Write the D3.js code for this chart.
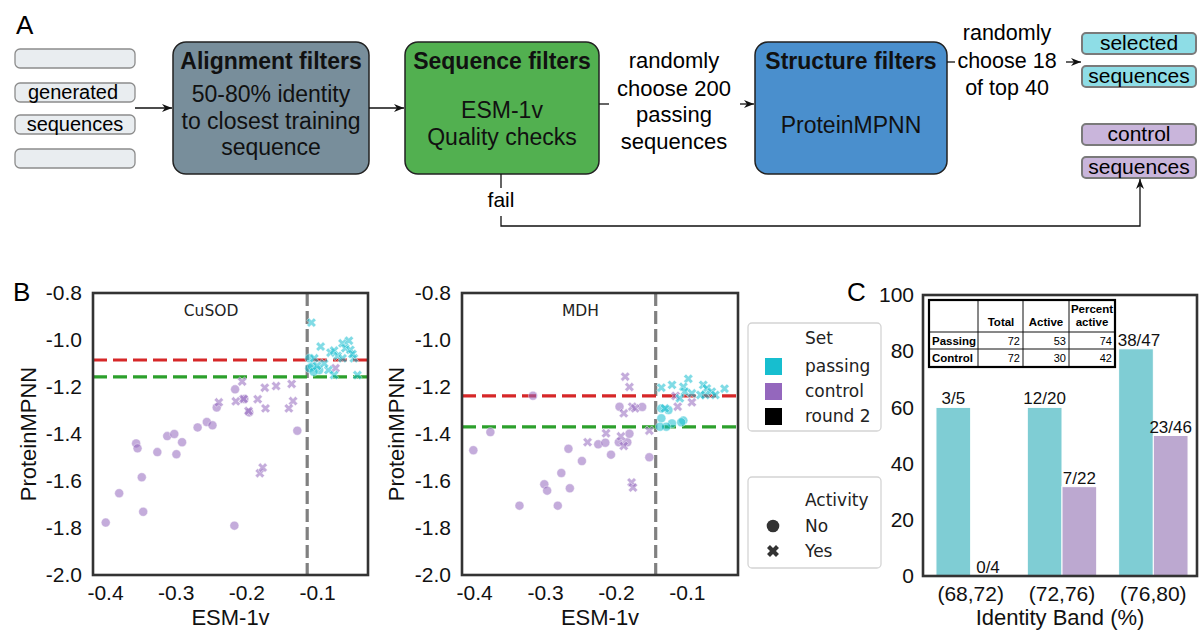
<!DOCTYPE html>
<html>
<head>
<meta charset="utf-8">
<script src="https://cdn.jsdelivr.net/npm/d3@7"></script>
<style>
  body { margin: 0; background: #fff; }
</style>
</head>
<body>
<svg id="fig" width="1200" height="630"></svg>
<script>
// ---- data ----
// CuSOD panel, [ESM-1v, ProteinMPNN]
const cusodPassYes = [[-0.108,-0.926],[-0.095,-1.028],[-0.081,-1.054],[-0.076,-1.045],[-0.064,-1.014],
  [-0.055,-1.003],[-0.060,-1.035],[-0.053,-1.042],[-0.048,-1.078],[-0.071,-1.068],[-0.084,-1.128],
  [-0.076,-1.149],[-0.043,-1.149],[-0.104,-1.078],[-0.064,-1.078],[-0.090,-1.100],[-0.050,-1.060],[-0.100,-1.110]];
const cusodPassNo = [[-0.111,-1.078],[-0.111,-1.120],[-0.097,-1.128],[-0.107,-1.113],[-0.105,-1.135]];
const cusodCtrlNo = [[-0.399,-1.777],[-0.380,-1.652],[-0.348,-1.584],[-0.346,-1.731],[-0.356,-1.440],
  [-0.354,-1.461],[-0.326,-1.477],[-0.312,-1.409],[-0.302,-1.400],[-0.299,-1.486],[-0.291,-1.435],
  [-0.269,-1.372],[-0.256,-1.349],[-0.248,-1.363],[-0.242,-1.287],[-0.216,-1.210],[-0.217,-1.790],
  [-0.203,-1.251],[-0.196,-1.308],[-0.128,-1.386]];
const cusodCtrlYes = [[-0.239,-1.265],[-0.215,-1.261],[-0.206,-1.177],[-0.204,-1.251],[-0.197,-1.302],
  [-0.184,-1.252],[-0.174,-1.203],[-0.173,-1.291],[-0.158,-1.196],[-0.181,-1.567],[-0.177,-1.543],
  [-0.136,-1.187],[-0.134,-1.260],[-0.140,-1.291],[-0.074,-1.120]];
const cusodCuts = [-0.114, -1.085, -1.157]; // esm cut, red cut, green cut

// MDH panel
const mdhPassYes = [[-0.136,-1.203],[-0.121,-1.191],[-0.098,-1.165],[-0.105,-1.199],[-0.103,-1.220],
  [-0.110,-1.248],[-0.093,-1.227],[-0.077,-1.191],[-0.072,-1.206],[-0.065,-1.220],[-0.060,-1.234],
  [-0.047,-1.207],[-0.074,-1.234],[-0.081,-1.234],[-0.131,-1.291]];
const mdhPassNo = [[-0.136,-1.291],[-0.126,-1.298],[-0.136,-1.333],[-0.121,-1.355],[-0.129,-1.369],
  [-0.105,-1.343],[-0.108,-1.350],[-0.138,-1.369]];
const mdhCtrlNo = [[-0.401,-1.469],[-0.377,-1.392],[-0.317,-1.237],[-0.336,-1.705],[-0.301,-1.614],
  [-0.297,-1.641],[-0.282,-1.705],[-0.277,-1.566],[-0.265,-1.631],[-0.267,-1.463],[-0.248,-1.515],
  [-0.225,-1.444],[-0.215,-1.437],[-0.207,-1.488],[-0.196,-1.435],[-0.184,-1.435],[-0.181,-1.399],
  [-0.195,-1.284],[-0.163,-1.285],[-0.153,-1.499]];
const mdhCtrlYes = [[-0.240,-1.435],[-0.214,-1.397],[-0.193,-1.410],[-0.189,-1.451],[-0.189,-1.312],
  [-0.187,-1.156],[-0.181,-1.200],[-0.177,-1.284],[-0.173,-1.291],[-0.178,-1.606],[-0.176,-1.628],
  [-0.153,-1.386],[-0.113,-1.284],[-0.093,-1.265],[-0.116,-1.238]];
const mdhCuts = [-0.144, -1.238, -1.370];

const scatterTicksX = [-0.4, -0.3, -0.2, -0.1];
const scatterTicksY = [-2.0, -1.8, -1.6, -1.4, -1.2, -1.0, -0.8];

// panel C bars
const bands = ["(68,72)", "(72,76)", "(76,80)"];
const passingPct = [60, 60, 80.85];
const controlPct = [0, 31.8, 50];
const passingLabels = ["3/5", "12/20", "38/47"];
const controlLabels = ["0/4", "7/22", "23/46"];
const barTicksY = [0, 20, 40, 60, 80, 100];

// summary table
const tableRows = ["Passing", "Control"];
const tableVals = [[72, 53, 74], [72, 30, 42]];

const FONT = '"Liberation Sans", Arial, Helvetica, sans-serif';
const LEGFONT = '"DejaVu Sans", Verdana, sans-serif';
const CYAN = "#17becf", PURPLE = "#9467bd";

const svg = d3.select("#fig").attr("font-family", FONT);

svg.append("defs").append("marker")
  .attr("id", "arr")
  .attr("viewBox", "0 0 10 8")
  .attr("refX", 10).attr("refY", 4)
  .attr("markerWidth", 10).attr("markerHeight", 8)
  .attr("markerUnits", "userSpaceOnUse")
  .attr("orient", "auto")
  .append("path").attr("d", "M0,0 L10,4 L0,8 L3,4 Z").attr("fill", "#111");

// ================= panel A =================
const gA = svg.append("g");
gA.append("text").attr("x", 16).attr("y", 34).attr("font-size", 26).text("A");

// input pills
const inPills = [49, 83, 115, 149];
gA.selectAll(".inpill").data(inPills).enter().append("rect")
  .attr("x", 15).attr("y", d => d).attr("width", 120).attr("height", 19).attr("rx", 5)
  .attr("fill", "#e9edf0").attr("stroke", "#8c8c8c").attr("stroke-width", 1.3);
gA.append("text").attr("x", 73).attr("y", 99).attr("text-anchor", "middle").attr("font-size", 20).text("generated");
gA.append("text").attr("x", 75).attr("y", 131).attr("text-anchor", "middle").attr("font-size", 20).text("sequences");

function arrow(x1, y1, x2, y2) {
  gA.append("line").attr("x1", x1).attr("y1", y1).attr("x2", x2).attr("y2", y2)
    .attr("stroke", "#111").attr("stroke-width", 1.3).attr("marker-end", "url(#arr)");
}

const boxes = [
  {x: 173, w: 196, fill: "#788e9b", title: "Alignment filters", lines: [["50-80% identity", 102], ["to closest training", 129], ["sequence", 155]]},
  {x: 405, w: 194, fill: "#52b050", title: "Sequence filters", lines: [["ESM-1v", 118], ["Quality checks", 145]]},
  {x: 755, w: 192, fill: "#4a8fcd", title: "Structure filters", lines: [["ProteinMPNN", 133]]}
];
boxes.forEach(b => {
  gA.append("rect").attr("x", b.x).attr("y", 42).attr("width", b.w).attr("height", 132).attr("rx", 13)
    .attr("fill", b.fill).attr("stroke", "#222").attr("stroke-width", 1.5);
  gA.append("text").attr("x", b.x + b.w / 2).attr("y", 69).attr("text-anchor", "middle")
    .attr("font-size", 23).attr("font-weight", "bold").attr("fill", "#111").text(b.title);
  b.lines.forEach(l => {
    gA.append("text").attr("x", b.x + b.w / 2).attr("y", l[1]).attr("text-anchor", "middle")
      .attr("font-size", 23).attr("fill", "#111").text(l[0]);
  });
});

arrow(135, 108, 172, 108);
arrow(369, 108, 404, 108);
gA.append("line").attr("x1", 599).attr("y1", 104).attr("x2", 609).attr("y2", 104).attr("stroke", "#111").attr("stroke-width", 1.3);
[["randomly", 68], ["choose 200", 96], ["passing", 122], ["sequences", 149]].forEach(l => {
  gA.append("text").attr("x", 674).attr("y", l[1]).attr("text-anchor", "middle").attr("font-size", 22).text(l[0]);
});
arrow(740, 104, 754, 104);
gA.append("line").attr("x1", 947).attr("y1", 62).attr("x2", 955).attr("y2", 62).attr("stroke", "#111").attr("stroke-width", 1.3);
[["randomly", 40], ["choose 18", 68], ["of top 40", 95]].forEach(l => {
  gA.append("text").attr("x", 1007).attr("y", l[1]).attr("text-anchor", "middle").attr("font-size", 21.5).text(l[0]);
});
arrow(1066, 62, 1081, 62);

// output pills
const outPills = [
  {y: 33, fill: "#8edde6", t: "selected"}, {y: 66, fill: "#8edde6", t: "sequences"},
  {y: 124, fill: "#c9b5db", t: "control"}, {y: 157, fill: "#c9b5db", t: "sequences"}
];
outPills.forEach(p => {
  gA.append("rect").attr("x", 1082).attr("y", p.y).attr("width", 114).attr("height", 21).attr("rx", 4)
    .attr("fill", p.fill).attr("stroke", "#7a7a7a").attr("stroke-width", 2);
  gA.append("text").attr("x", 1139).attr("y", p.y + 17).attr("text-anchor", "middle").attr("font-size", 21).text(p.t);
});

// fail path
gA.append("line").attr("x1", 501).attr("y1", 174).attr("x2", 501).attr("y2", 188).attr("stroke", "#111").attr("stroke-width", 1.3);
gA.append("text").attr("x", 501).attr("y", 207).attr("text-anchor", "middle").attr("font-size", 21).text("fail");
gA.append("path").attr("d", "M501,216 V226 H1140 V179").attr("fill", "none")
  .attr("stroke", "#111").attr("stroke-width", 1.3).attr("marker-end", "url(#arr)");

// ================= panel B =================
svg.append("text").attr("x", 13).attr("y", 301).attr("font-size", 26).text("B");

const symX = d3.symbol().type(d3.symbolCross).size(56);

function drawScatter(left, right, ylabX, title, passYes, passNo, ctrlYes, ctrlNo, cuts) {
  const g = svg.append("g");
  const x = d3.scaleLinear().domain([-0.417, -0.028]).range([left, right]);
  const y = d3.scaleLinear().domain([-2.0, -0.8]).range([575, 293]);

  // cut lines
  g.append("line").attr("x1", x(cuts[0])).attr("x2", x(cuts[0])).attr("y1", 293).attr("y2", 575)
    .attr("stroke", "#808080").attr("stroke-width", 3.2).attr("stroke-dasharray", "13,5");
  g.append("line").attr("x1", left).attr("x2", right).attr("y1", y(cuts[1])).attr("y2", y(cuts[1]))
    .attr("stroke", "#d62728").attr("stroke-width", 3.2).attr("stroke-dasharray", "14,6");
  g.append("line").attr("x1", left).attr("x2", right).attr("y1", y(cuts[2])).attr("y2", y(cuts[2]))
    .attr("stroke", "#2ca02c").attr("stroke-width", 3.2).attr("stroke-dasharray", "14,6");

  function dots(data, color) {
    g.selectAll(null).data(data).enter().append("circle")
      .attr("cx", d => x(d[0])).attr("cy", d => y(d[1])).attr("r", 4.5)
      .attr("fill", color).attr("fill-opacity", 0.55)
      .attr("stroke", "#fff").attr("stroke-width", 0.6).attr("stroke-opacity", 0.7);
  }
  function crosses(data, color) {
    g.selectAll(null).data(data).enter().append("path")
      .attr("d", symX)
      .attr("transform", d => `translate(${x(d[0])},${y(d[1])}) rotate(45)`)
      .attr("fill", color).attr("fill-opacity", 0.55)
      .attr("stroke", "#fff").attr("stroke-width", 0.6).attr("stroke-opacity", 0.7);
  }
  dots(ctrlNo, PURPLE);
  crosses(ctrlYes, PURPLE);
  dots(passNo, CYAN);
  crosses(passYes, CYAN);

  g.append("rect").attr("x", left).attr("y", 293).attr("width", right - left).attr("height", 282)
    .attr("fill", "none").attr("stroke", "#333").attr("stroke-width", 2.6);

  g.append("g").attr("transform", "translate(0,575)")
    .call(d3.axisBottom(x).tickValues(scatterTicksX).tickSize(0).tickPadding(10).tickFormat(d => d.toFixed(1)))
    .attr("font-size", 21).attr("font-family", FONT)
    .call(a => a.select(".domain").remove())
    .selectAll("text").attr("fill", "#111");
  g.append("g").attr("transform", `translate(${left},0)`)
    .call(d3.axisLeft(y).tickValues(scatterTicksY).tickSize(0).tickPadding(11).tickFormat(d => d.toFixed(1)))
    .attr("font-size", 21).attr("font-family", FONT)
    .call(a => a.select(".domain").remove())
    .selectAll("text").attr("fill", "#111");

  g.append("text").attr("x", (left + right) / 2).attr("y", 625).attr("text-anchor", "middle")
    .attr("font-size", 22).attr("fill", "#111").text("ESM-1v");
  g.append("text").attr("transform", `translate(${ylabX},434) rotate(-90)`).attr("text-anchor", "middle")
    .attr("font-size", 22).attr("fill", "#111").text("ProteinMPNN");
  g.append("text").attr("x", x(-0.25)).attr("y", 316).attr("text-anchor", "middle")
    .attr("font-family", LEGFONT).attr("font-size", 15.5).attr("fill", "#222").text(title);
}

drawScatter(93, 368, 36, "CuSOD", cusodPassYes, cusodPassNo, cusodCtrlYes, cusodCtrlNo, cusodCuts);
drawScatter(462, 738, 404, "MDH", mdhPassYes, mdhPassNo, mdhCtrlYes, mdhCtrlNo, mdhCuts);

// legends
const gL = svg.append("g").attr("font-family", LEGFONT).attr("font-size", 17).attr("fill", "#222");
gL.append("rect").attr("x", 748).attr("y", 323).attr("width", 133).attr("height", 108).attr("rx", 4)
  .attr("fill", "#fff").attr("stroke", "#d4d4d4").attr("stroke-width", 1.3);
gL.append("text").attr("x", 805).attr("y", 344).text("Set");
const setItems = [["passing", CYAN], ["control", PURPLE], ["round 2", "#000"]];
setItems.forEach((s, i) => {
  const by = 372 + i * 25;
  gL.append("rect").attr("x", 765).attr("y", by - 14).attr("width", 17).attr("height", 17).attr("fill", s[1]);
  gL.append("text").attr("x", 805).attr("y", by).text(s[0]);
});
gL.append("rect").attr("x", 748).attr("y", 477).attr("width", 133).attr("height", 91).attr("rx", 4)
  .attr("fill", "#fff").attr("stroke", "#d4d4d4").attr("stroke-width", 1.3);
gL.append("text").attr("x", 805).attr("y", 506).text("Activity");
gL.append("circle").attr("cx", 773).attr("cy", 526).attr("r", 6.3).attr("fill", "#333");
gL.append("text").attr("x", 805).attr("y", 532).text("No");
gL.append("path").attr("d", d3.symbol().type(d3.symbolCross).size(90))
  .attr("transform", "translate(773,551) rotate(45)").attr("fill", "#333");
gL.append("text").attr("x", 805).attr("y", 557).text("Yes");

// ================= panel C =================
svg.append("text").attr("x", 847).attr("y", 301).attr("font-size", 26).text("C");
const gC = svg.append("g");
const xb = d3.scaleBand().domain(bands).range([925, 1199]).paddingInner(0.24).paddingOuter(0.12);
const xs = d3.scaleBand().domain(["passing", "control"]).range([0, xb.bandwidth()]);
const yb = d3.scaleLinear().domain([0, 100]).range([576, 295]);

const barData = [];
bands.forEach((b, i) => {
  barData.push({band: b, set: "passing", v: passingPct[i], lab: passingLabels[i]});
  barData.push({band: b, set: "control", v: controlPct[i], lab: controlLabels[i]});
});

gC.selectAll(".bar").data(barData).enter().append("rect")
  .attr("x", d => xb(d.band) + xs(d.set)).attr("width", xs.bandwidth())
  .attr("y", d => yb(d.v)).attr("height", d => yb(0) - yb(d.v))
  .attr("fill", d => d.set === "passing" ? "#7fcdd4" : "#bca8d0")
  .attr("stroke", "#fff").attr("stroke-width", 1);

// table
const colX = [929, 978, 1023, 1069, 1115];
const rowY = [300, 332, 349, 367];
const gT = gC.append("g").attr("font-size", 11.5);
gT.append("rect").attr("x", colX[0]).attr("y", rowY[0]).attr("width", colX[4] - colX[0]).attr("height", rowY[3] - rowY[0])
  .attr("fill", "#fff");
colX.slice(1, 4).forEach(cx => gT.append("line").attr("x1", cx).attr("x2", cx).attr("y1", rowY[0]).attr("y2", rowY[3])
  .attr("stroke", "#111").attr("stroke-width", 1));
rowY.slice(1, 3).forEach(ry => gT.append("line").attr("x1", colX[0]).attr("x2", colX[4]).attr("y1", ry).attr("y2", ry)
  .attr("stroke", "#111").attr("stroke-width", 1));
gT.append("rect").attr("x", colX[0]).attr("y", rowY[0]).attr("width", colX[4] - colX[0]).attr("height", rowY[3] - rowY[0])
  .attr("fill", "none").attr("stroke", "#000").attr("stroke-width", 2.2);
gT.append("text").attr("x", 1001).attr("y", 326).attr("text-anchor", "middle").attr("font-weight", "bold").text("Total");
gT.append("text").attr("x", 1046).attr("y", 326).attr("text-anchor", "middle").attr("font-weight", "bold").text("Active");
gT.append("text").attr("x", 1092).attr("y", 313).attr("text-anchor", "middle").attr("font-weight", "bold").text("Percent");
gT.append("text").attr("x", 1092).attr("y", 326).attr("text-anchor", "middle").attr("font-weight", "bold").text("active");
tableRows.forEach((r, i) => {
  const by = rowY[i + 1] + 13;
  gT.append("text").attr("x", 932).attr("y", by).attr("font-weight", "bold").text(r);
  tableVals[i].forEach((v, j) => {
    gT.append("text").attr("x", colX[j + 2] - 3).attr("y", by).attr("text-anchor", "end")
      .attr("font-size", 11).text(v);
  });
});

// bar labels drawn after the table
gC.selectAll(".blab").data(barData).enter().append("text")
  .attr("x", d => xb(d.band) + xs(d.set) + xs.bandwidth() / 2 + (d.v > 70 ? 3 : 0))
  .attr("y", d => yb(d.v) - 3).attr("text-anchor", "middle")
  .attr("font-size", 17).attr("fill", "#111").text(d => d.lab);

gC.append("rect").attr("x", 923).attr("y", 295).attr("width", 274).attr("height", 281)
  .attr("fill", "none").attr("stroke", "#333").attr("stroke-width", 2.6);

gC.append("g").attr("transform", "translate(0,576)")
  .call(d3.axisBottom(xb).tickSize(0).tickPadding(10))
  .attr("font-size", 21).attr("font-family", FONT)
  .call(a => a.select(".domain").remove())
  .selectAll("text").attr("fill", "#111");
gC.append("g").attr("transform", "translate(923,0)")
  .call(d3.axisLeft(yb).tickValues(barTicksY).tickSize(0).tickPadding(9))
  .attr("font-size", 21).attr("font-family", FONT)
  .call(a => a.select(".domain").remove())
  .selectAll("text").attr("fill", "#111");
gC.append("text").attr("x", 1060).attr("y", 625).attr("text-anchor", "middle")
  .attr("font-size", 22).attr("fill", "#111").text("Identity Band (%)");
</script>
</body>
</html>
